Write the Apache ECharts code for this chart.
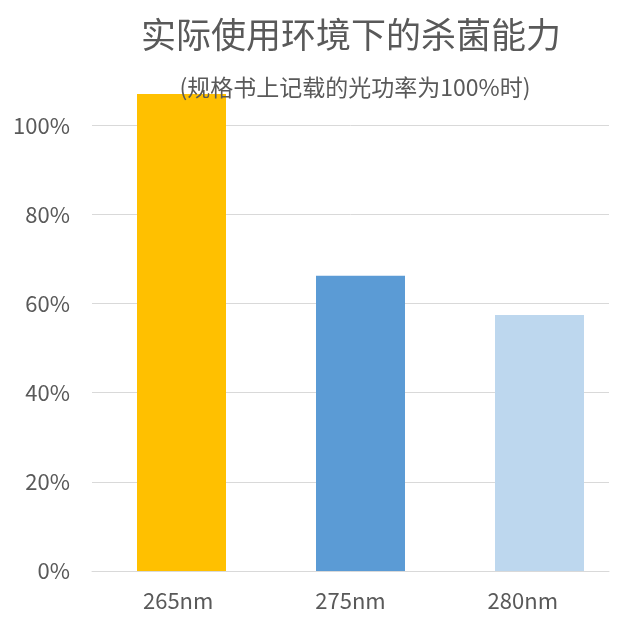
<!DOCTYPE html>
<html>
<head>
<meta charset="utf-8">
<script src="https://cdn.jsdelivr.net/npm/echarts@6/dist/echarts.min.js"></script>
<style>html,body{margin:0;padding:0;background:#fff;}#c{width:644px;height:622px;}</style>
</head>
<body>
<div id="c"></div>
<script>
const titleText = '实际使用环境下的杀菌能力';
const subtitleText = '(规格书上记载的光功率为100%时)';
const categories = ['265nm', '275nm', '280nm'];
const values = [107, 66.2, 57.4];
const yTicks = [0, 20, 40, 60, 80, 100];
const barColors = ['#FFC000', '#5B9BD5', '#BDD7EE'];

const FONT = '"Noto Sans CJK SC", "Noto Sans", sans-serif';
const chart = echarts.init(document.getElementById('c'), null, {renderer: 'canvas'});
chart.setOption({
  backgroundColor: '#fff',
  animation: false,
  title: [
    {text: titleText, left: 346, top: 12, textAlign: 'center',
     textStyle: {fontFamily: FONT, fontSize: 35, fontWeight: 'normal', color: '#595959'}},
    {text: subtitleText, left: 350, top: 71, textAlign: 'center',
     textStyle: {fontFamily: FONT, fontSize: 23, fontWeight: 'normal', color: '#595959'}}
  ],
  grid: [
    {left: 92, right: 35, top: 36, bottom: 51},
    {left: 92, right: 15, top: 36, bottom: 51}
  ],
  xAxis: [
    {type: 'category', gridIndex: 0, data: categories,
     axisLine: {lineStyle: {color: '#D9D9D9'}}, axisTick: {show: false},
     axisLabel: {margin: 19, fontFamily: FONT, fontSize: 22, color: '#595959'}},
    {type: 'category', gridIndex: 1, data: categories, show: false}
  ],
  yAxis: [
    {type: 'value', gridIndex: 0, min: 0, max: 120, interval: 20,
     axisLine: {show: false}, axisTick: {show: false},
     splitLine: {showMaxLine: false, lineStyle: {color: '#D9D9D9'}},
     axisLabel: {margin: 22, fontFamily: FONT, fontSize: 22, color: '#595959', showMaxLabel: false,
       formatter: v => yTicks.includes(v) ? v + '%' : ''}},
    {type: 'value', gridIndex: 1, min: 0, max: 120, show: false}
  ],
  series: [{
    type: 'bar', xAxisIndex: 1, yAxisIndex: 1, barWidth: 89,
    data: values.map((v, i) => ({value: v, itemStyle: {color: barColors[i]}}))
  }]
});
</script>
</body>
</html>
